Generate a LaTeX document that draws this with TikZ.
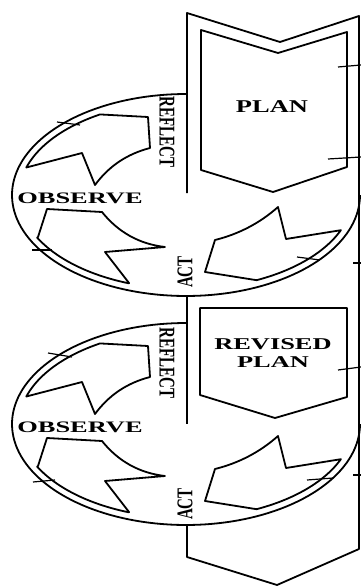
\documentclass[tikz,border=0pt]{standalone}
\usepackage{fontspec}
\setmainfont{Liberation Serif}
\newcommand{\actloop}{%
  \draw[edge] plot[domain=0:270.4,samples=120] ({186+174*cos(\x)},{195+101*sin(\x)});
  \draw[edge] (26.3,167.5) -- plot[domain=197:239,samples=25] ({186+167*cos(\x)},{195+94*sin(\x)})
     -- (148,117) -- (150,148) .. controls (127,154) and (109,166) .. (95,185) -- (82,153) -- cycle;
  \draw[edge] (38,237) -- (47,209) -- (102,212) .. controls (118,232) and (139,244) .. (165,247)
     -- (105,252) -- (129,283) -- plot[domain=110:153,samples=25] ({186+167*cos(\x)},{195+94*sin(\x)}) -- cycle;
  \draw[edge] (205,272) -- (215,240) .. controls (239,234) and (260,223) .. (278,207) -- (286,239)
     -- (340.8,230.2) -- plot[domain=22:65,samples=25] ({186+167*cos(\x)},{195+94*sin(\x)}) -- cycle;
}
\begin{document}
\begin{tikzpicture}[x=1pt,y=-1pt,
  edge/.style={line width=1.8pt,line join=round},
  tick/.style={line width=1.2pt},
  lbl/.style={inner sep=0pt,font=\bfseries}]
\useasboundingbox (0,0) rectangle (361,586);
% column (big downward arrow)
\draw[edge] (187,193) -- (187,13) -- (280,42) -- (359,16) -- (359,549) -- (277,585) -- (187,557) -- (187,525);
\draw[edge] (187,296) -- (187,424);
% plan boxes
\draw[edge] (201,30) -- (278,53) -- (347,32) -- (347,167) -- (273,192) -- (201,170) -- cycle;
\draw[edge] (200,308) -- (347,308) -- (347,397) -- (275,418) -- (200,395) -- cycle;
% loops
\actloop
\begin{scope}[shift={(0,229)}]
\actloop
\end{scope}
% ticks
\draw[tick] (57,122) -- (80,125);
\draw[tick] (32,250) -- (52,250);
\draw[tick] (297,257) -- (320,260);
\draw[tick] (338,67) -- (361,65);
\draw[tick] (328,159) -- (361,157);
\draw[tick] (353,263) -- (361,263);
\draw[tick] (48,353) -- (72,357);
\draw[tick] (33,482) -- (55,480);
\draw[tick] (307,480) -- (333,478);
\draw[tick] (338,370) -- (361,367);
\draw[tick] (353,475) -- (361,475);
% labels
\node[lbl] (plan) at (272,107) {\fontsize{18}{18}\selectfont\scalebox{1.47}[1]{PLAN}};
\node[lbl] (rplan1) at (273,344.5) {\fontsize{16.5}{16.5}\selectfont\scalebox{1.6}[1]{REVISED}};
\node[lbl] (rplan2) at (273,362) {\fontsize{16.5}{16.5}\selectfont\scalebox{1.6}[1]{PLAN}};
\node[lbl,rotate=-90] (refl1) at (167,132) {\fontsize{15}{15}\selectfont\scalebox{1}[1.5]{REFLECT}};
\node[lbl,rotate=-90] (refl2) at (167,363) {\fontsize{15}{15}\selectfont\scalebox{1}[1.5]{REFLECT}};
\node[lbl] (obs1) at (80,198) {\fontsize{16}{16}\selectfont\scalebox{1.65}[1]{OBSERVE}};
\node[lbl] (obs2) at (80,427) {\fontsize{16}{16}\selectfont\scalebox{1.65}[1]{OBSERVE}};
\node[lbl,rotate=90] (act1) at (185,272) {\fontsize{15}{15}\selectfont\scalebox{1}[1.5]{ACT}};
\node[lbl,rotate=90] (act2) at (185,504) {\fontsize{15}{15}\selectfont\scalebox{1}[1.5]{ACT}};
\end{tikzpicture}
\end{document}
